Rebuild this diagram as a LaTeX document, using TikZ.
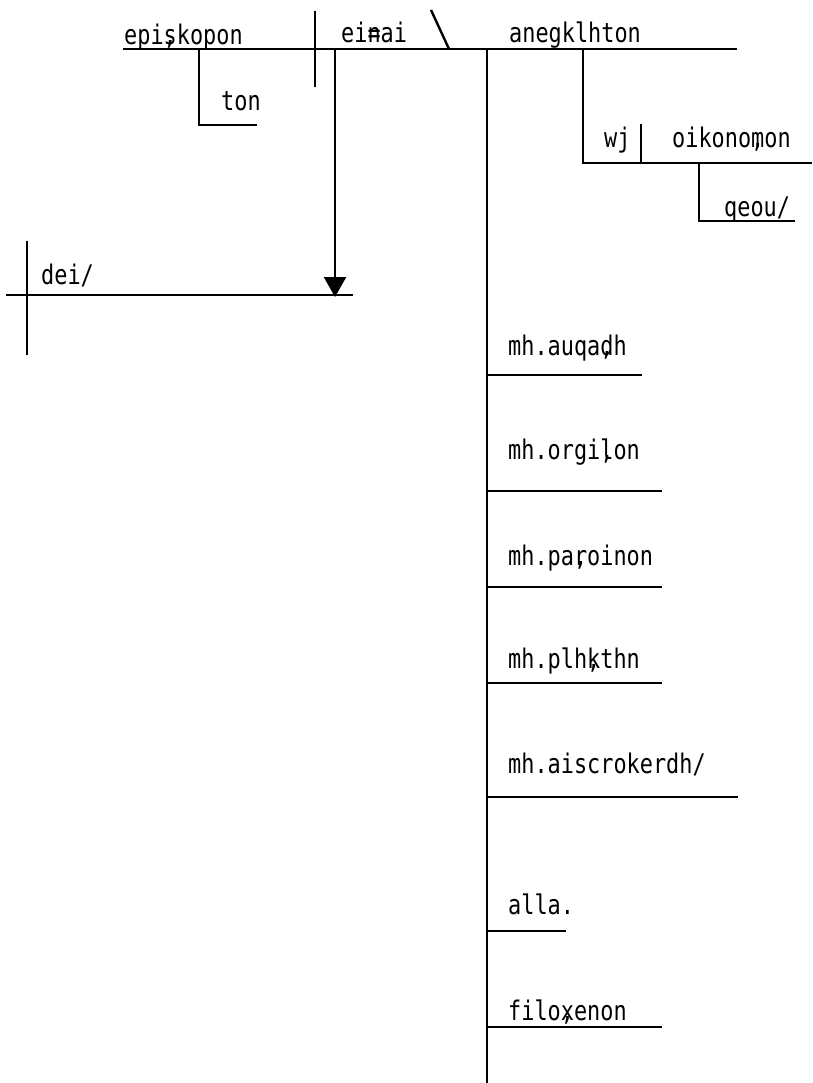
\documentclass[tikz,border=0pt]{standalone}
\usepackage{fontspec}
\usepackage{tikz}
\usetikzlibrary{arrows.meta}
\newfontfamily\greek[FakeStretch=0.81]{DejaVu Sans Mono}
% zero width accent mark over the next letter
\newcommand{\zw}[1]{\rlap{#1}}

\begin{document}
\begin{tikzpicture}[x=1pt,y=-1pt,line width=2.4pt,
  word/.style={anchor=base west,inner sep=0pt,font=\greek\fontsize{27}{31}\selectfont}]
\useasboundingbox (0,0) rectangle (812,1083);
% main line
\coordinate (baseL) at (123,49);
\coordinate (baseR) at (737,49);
\draw (baseL) -- (baseR);
\node[word] (episkopon) at (123,45) {epi\zw{,}skopon};
\node[word] (einai) at (340,43) {ei\zw{=}nai};
\node[word] (anegklhton) at (508,43) {anegklhton};
\coordinate (subjT) at (315,11);
\coordinate (subjB) at (315,87);
\draw (subjT) -- (subjB);
\coordinate (slashT) at (431,10);
\coordinate (slashB) at (449,49);
\draw (slashT) -- (slashB);
% ton
\coordinate (tonA) at (199,49);
\coordinate (tonB) at (199,125);
\coordinate (tonC) at (257,125);
\draw (tonA) -- (tonB) -- (tonC);
\node[word] (ton) at (220,111) {ton};
% dei
\coordinate (deiL) at (6,295);
\coordinate (deiR) at (353,295);
\coordinate (deiT) at (27,241);
\coordinate (deiB) at (27,355);
\draw (deiL) -- (deiR);
\draw (deiT) -- (deiB);
\node[word] (dei) at (40,284) {dei/};
\coordinate (infA) at (335,49);
\coordinate (infB) at (335,297);
\draw[-{Triangle[width=22pt,length=20pt]}] (infA) -- (infB);
% wj oikonomon
\coordinate (wjA) at (583,49);
\coordinate (wjB) at (583,163);
\coordinate (wjC) at (812,163);
\draw (wjA) -- (wjB) -- (wjC);
\coordinate (wjT) at (641,124);
\coordinate (wjD) at (641,163);
\draw (wjT) -- (wjD);
\node[word] (wj) at (603,148) {wj};
\node[word] (oikonomon) at (671,148) {oikono\zw{,}mon};
\coordinate (qeouA) at (699,163);
\coordinate (qeouB) at (699,221);
\coordinate (qeouC) at (795,221);
\draw (qeouA) -- (qeouB) -- (qeouC);
\node[word] (qeou) at (723,217) {qeou/};
% list of complements
\coordinate (listT) at (487,49);
\coordinate (listB) at (487,1083);
\draw (listT) -- (listB);
\foreach \y/\l/\r/\txt [count=\i] in {355/375/642/{mh\zw{.}\ auqa\zw{,}dh},
    459/491/662/{mh\zw{.}\ orgi\zw{,}lon}, 565/587/662/{mh\zw{.}\ pa\zw{,}roinon},
    668/683/662/{mh\zw{.}\ plh\zw{,}kthn}, 773/797/738/{mh\zw{.}\ aiscrokerdh/},
    914/931/566/{alla.}, 1020/1027/662/{filo\zw{,}xenon}}
{
  \node[word] (item\i) at (507,\y) {\txt};
  \coordinate (lineL\i) at (487,\l);
  \coordinate (lineR\i) at (\r,\l);
  \draw (lineL\i) -- (lineR\i);
}
\end{tikzpicture}
\end{document}
